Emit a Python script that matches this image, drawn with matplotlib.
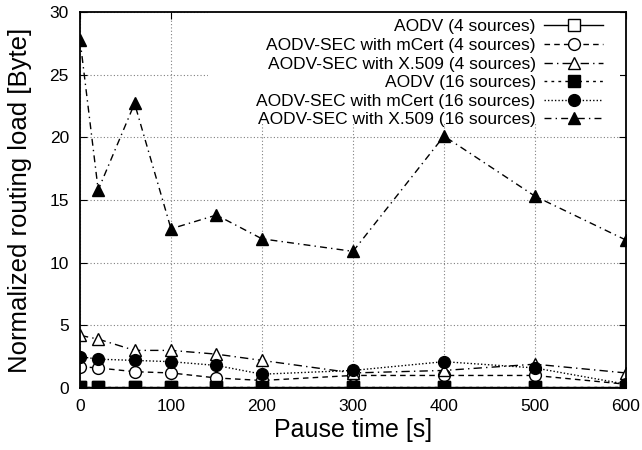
import matplotlib
matplotlib.use("Agg")
import matplotlib.pyplot as plt
from matplotlib.patches import Rectangle

plt.rcParams['font.family'] = ['Liberation Sans', 'DejaVu Sans']

pause = [0, 20, 60, 100, 150, 200, 300, 400, 500, 600]
aodv4 = [0.05, 0.05, 0.05, 0.05, 0.05, 0.05, 0.05, 0.05, 0.05, 0.05]
mcert4 = [1.7, 1.6, 1.3, 1.2, 0.8, 0.6, 1.0, 1.0, 1.0, 0.3]
x509_4 = [4.2, 3.9, 3.0, 3.0, 2.7, 2.2, 1.2, 1.4, 1.9, 1.2]
aodv16 = [0.05, 0.05, 0.05, 0.05, 0.05, 0.05, 0.05, 0.05, 0.05, 0.05]
mcert16 = [2.5, 2.3, 2.2, 2.1, 1.8, 1.1, 1.4, 2.1, 1.6, 0.3]
x509_16 = [27.8, 15.8, 22.7, 12.7, 13.8, 11.9, 10.9, 20.1, 15.3, 11.8]

labels = ["AODV (4 sources)", "AODV-SEC with mCert (4 sources)",
          "AODV-SEC with X.509 (4 sources)", "AODV (16 sources)",
          "AODV-SEC with mCert (16 sources)", "AODV-SEC with X.509 (16 sources)"]

fig = plt.figure(figsize=(6.42, 4.5), dpi=100)
ax = fig.add_axes([0.1246, 0.1378, 0.8505, 0.8356])

ms = 8.5
ax.plot(pause, aodv4, color="black", lw=1, ls="-", marker="s", mfc="white", ms=ms, label=labels[0])
ax.plot(pause, mcert4, color="black", lw=1, ls=(0, (4, 3)), marker="o", mfc="white", ms=ms, label=labels[1])
ax.plot(pause, x509_4, color="black", lw=1, ls=(0, (6, 3, 1, 3)), marker="^", mfc="white", ms=ms, label=labels[2])
ax.plot(pause, aodv16, color="black", lw=1, ls=(0, (2, 3)), marker="s", ms=ms, label=labels[3])
ax.plot(pause, mcert16, color="black", lw=1, ls=(0, (1, 1.5)), marker="o", ms=ms, label=labels[4])
ax.plot(pause, x509_16, color="black", lw=1, ls=(0, (5, 3, 1, 3)), marker="^", ms=ms, label=labels[5])

ax.set_xlim(0, 600)
ax.set_ylim(0, 30)
ax.set_xticks(range(0, 601, 100))
ax.set_yticks(range(0, 31, 5))
ax.grid(True, color="gray", ls=(0, (1, 2)), lw=0.8)
ax.tick_params(direction="in", top=True, right=True, labelsize=12.5, length=5, pad=8)
for s in ax.spines.values():
    s.set_linewidth(1.3)
ax.set_xlabel("Pause time [s]", fontsize=18)
ax.set_ylabel("Normalized routing load [Byte]", fontsize=18.5)
ax.xaxis.set_label_coords(0.5, -0.08)
ax.yaxis.set_label_coords(-0.088, 0.5)

# white key area covering the grid, as in the original
ax.add_patch(Rectangle((0.234, 0.702), 0.755, 0.298, transform=ax.transAxes,
                       facecolor="white", edgecolor="none", zorder=1.8))

leg = ax.legend(loc="upper right", bbox_to_anchor=(0.965, 0.99), markerfirst=False,
                fontsize=12.5, frameon=False, handlelength=3.4, labelspacing=0.2,
                borderpad=0.2, handletextpad=0.5, borderaxespad=0)
for t in leg.get_texts():
    t.set_ha("right")
leg._legend_box.align = "right"
for vp in leg._legend_handle_box.get_children():
    vp.align = "right"

fig.savefig("out.png", dpi=100)
